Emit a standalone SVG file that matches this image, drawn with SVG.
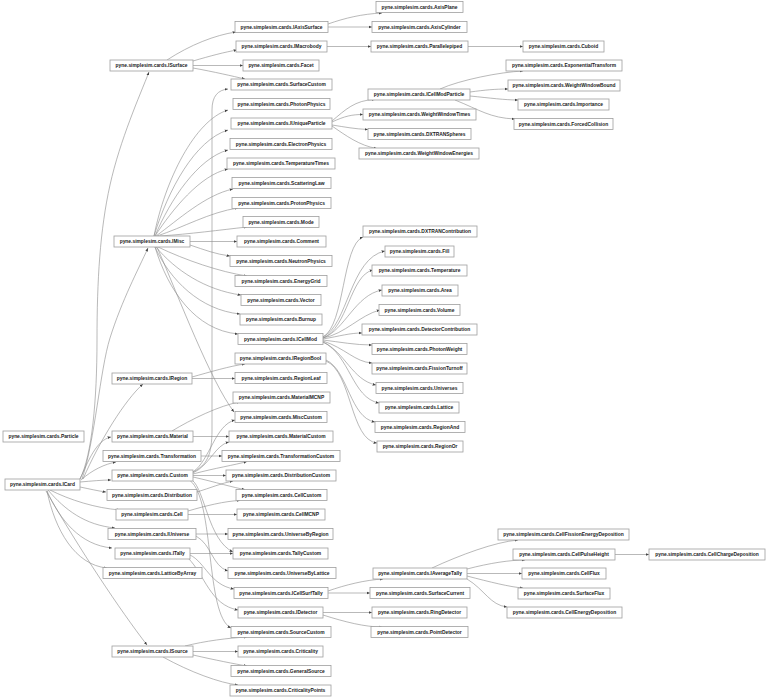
<svg xmlns="http://www.w3.org/2000/svg" width="768" height="698" viewBox="0 0 768 698">
<style>
.n rect{fill:#fff;stroke:#9e9e9e;stroke-width:0.8}
.n text{font-family:"Liberation Sans",Arial,sans-serif;font-size:4.9px;font-weight:bold;text-anchor:middle;fill:#1a1a1a}
.e path{fill:none;stroke:#8a8a8a;stroke-width:0.6;marker-end:url(#a)}
</style>
<defs>
<marker id="a" viewBox="0 0 10 10" refX="10" refY="5" markerWidth="3.4" markerHeight="3.4" markerUnits="userSpaceOnUse" orient="auto"><path d="M0,1 L10,5 L0,9 z" fill="#444"/></marker>
</defs>
<rect width="768" height="698" fill="#fff"/>
<g id="connectors" class="e">
<!-- ICard -->
<path d="M80,479 C92,455 97,400 97,340 C97,280 100,230 110,185 C120,140 140,95 149,72"/>
<path d="M82,479 C95,440 100,370 110,338 C122,300 138,270 148,248"/>
<path d="M83,479 C100,440 125,400 143,384"/>
<path d="M80,479 C88,462 96,440 111,437"/>
<path d="M81,480 C92,470 105,464 116,462"/>
<path d="M80,482 C92,481 102,480 111,480"/>
<path d="M80,487 C90,489 98,491 106,492"/>
<path d="M50,490 C70,500 95,508 120,510"/>
<path d="M48,490 C65,510 85,525 115,528"/>
<path d="M47,491 C60,520 80,545 112,548"/>
<path d="M47,491 C55,530 75,565 107,568"/>
<path d="M46,491 C80,550 120,610 147,645"/>
<!-- ISurface -->
<path d="M167,60 C190,45 215,35 236,32"/>
<path d="M193,61 C210,56 225,52 237,50"/>
<path d="M193,65.5 L243,65.5"/>
<path d="M193,68 C215,72 232,76 245,79"/>
<path d="M328,24 C345,18 362,14 382,13"/>
<path d="M328,27 L372,27"/>
<path d="M327,46.5 L371,46.5"/>
<path d="M468,46.5 L523,46.5"/>
<!-- IMisc -->
<path d="M154,236 C165,180 195,120 228,110"/>
<path d="M154,236 C168,190 195,140 228,130"/>
<path d="M155,236 C170,200 198,158 228,150"/>
<path d="M155,236 C172,210 200,175 228,169"/>
<path d="M156,236 C178,220 205,195 233,189"/>
<path d="M157,236 C182,228 210,212 238,208"/>
<path d="M160,236 C190,234 220,230 247,227"/>
<path d="M190,241.5 L237,241.5"/>
<path d="M190,245 C205,250 215,254 230,256"/>
<path d="M158,247 C185,260 220,272 247,276"/>
<path d="M156,247 C175,270 205,290 241,295"/>
<path d="M155,247 C170,280 200,310 240,314"/>
<path d="M155,247 C168,290 195,330 238,334"/>
<path d="M157,247 C180,300 210,380 234,412"/>
<!-- IUniqueParticle -->
<path d="M332,121 C345,110 355,100 375,99.5"/>
<path d="M332,122 C345,116 352,114.5 363,114.5"/>
<path d="M332,125 C345,127 355,129 368,129.5"/>
<path d="M332,126 C345,135 360,146 377,148.5"/>
<!-- ICellModParticle -->
<path d="M440,89 C460,80 500,72 523,71"/>
<path d="M470,92 C485,90 495,89 508,89"/>
<path d="M470,96 C490,98 505,100 518,100"/>
<path d="M455,100 C480,110 490,118 515,119"/>
<!-- ICellMod -->
<path d="M323,337 C345,325 342,245 363,237"/>
<path d="M323,337 C348,325 350,258 385,251"/>
<path d="M323,338 C348,328 350,275 373,270"/>
<path d="M323,338 C345,330 355,295 382,290"/>
<path d="M323,338 C345,334 360,315 380,310"/>
<path d="M323,339 C340,336 350,333 362,333"/>
<path d="M323,340 C340,342 355,345 372,345"/>
<path d="M323,341 C345,348 355,362 372,363"/>
<path d="M323,342 C345,352 352,380 376,385"/>
<path d="M323,342 C350,355 352,398 379,403"/>
<!-- IRegion -->
<path d="M192,377 C210,372 230,366 245,364"/>
<path d="M192,378.5 L235,378.5"/>
<path d="M326,360 C348,370 350,418 375,422"/>
<path d="M326,361 C352,372 350,440 377,443"/>
<!-- Material -->
<path d="M172,431 C190,420 220,405 240,402"/>
<path d="M193,436.5 L229,436.5"/>
<!-- Transformation -->
<path d="M201,456 L222,456"/>
<!-- Custom -->
<path d="M193,472 C207,465 212,455 212,430 L212,110 C212,96 218,90 228,89"/>
<path d="M193,472 C210,460 215,425 235,420"/>
<path d="M193,473 C210,465 215,445 229,442"/>
<path d="M193,474 C215,468 235,465 247,461.5"/>
<path d="M193,475.5 L226,475.5"/>
<path d="M193,477 C215,482 235,488 245,489.5"/>
<path d="M192,480 C205,490 208,540 233,552"/>
<path d="M190,480.5 C215,500 205,615 231,628"/>
<!-- Distribution -->
<path d="M197,492 C210,488 222,483 233,481"/>
<!-- Cell -->
<path d="M188,511 C205,506 225,501 240,500.5"/>
<path d="M188,514.5 L237,514.5"/>
<!-- IUniverse -->
<path d="M196,534 L228,534"/>
<path d="M196,536 C212,545 212,566 228,571"/>
<!-- ITally -->
<path d="M190,553.5 L233,553.5"/>
<path d="M190,555 C205,562 210,585 234,589"/>
<path d="M188,558 C205,575 210,605 238,610"/>
<path d="M328,591 C345,585 365,580 383,579"/>
<path d="M328,593 L370,593"/>
<path d="M323,612.5 L372,612.5"/>
<path d="M323,615 C345,622 365,627 382,627"/>
<!-- IAverageTally -->
<path d="M432,568 C460,555 495,542 518,540"/>
<path d="M467,569 C490,563 510,560 525,560"/>
<path d="M467,573.5 L522,573.5"/>
<path d="M467,576 C490,582 510,587 523,588"/>
<path d="M467,579 C485,590 490,605 507,607"/>
<path d="M615,554.5 L649,554.5"/>
<!-- ISource -->
<path d="M185,646 C205,641 228,638 247,637"/>
<path d="M193,651.5 L238,651.5"/>
<path d="M193,655 C215,660 235,664 247,666"/>
<path d="M163,657 C190,672 220,683 238,685"/>
</g>
<g id="Particle" class="n"><rect x="3" y="431" width="81" height="11"/><text x="43.5" y="438.3">pyne.simplesim.cards.Particle</text></g>
<g id="ICard" class="n"><rect x="5" y="479" width="75" height="11"/><text x="42.5" y="486.3">pyne.simplesim.cards.ICard</text></g>
<g id="ISurface" class="n"><rect x="110" y="60" width="83" height="11"/><text x="151.5" y="67.3">pyne.simplesim.cards.ISurface</text></g>
<g id="IMisc" class="n"><rect x="114" y="236" width="76" height="11"/><text x="152" y="243.3">pyne.simplesim.cards.IMisc</text></g>
<g id="IRegion" class="n"><rect x="112" y="373" width="80" height="11"/><text x="152" y="380.3">pyne.simplesim.cards.IRegion</text></g>
<g id="Material" class="n"><rect x="112" y="431" width="81" height="11"/><text x="152.5" y="438.3">pyne.simplesim.cards.Material</text></g>
<g id="Transformation" class="n"><rect x="103" y="450.5" width="98" height="11"/><text x="152" y="457.8">pyne.simplesim.cards.Transformation</text></g>
<g id="Custom" class="n"><rect x="112" y="470" width="81" height="11"/><text x="152.5" y="477.3">pyne.simplesim.cards.Custom</text></g>
<g id="Distribution" class="n"><rect x="107" y="489.5" width="90" height="11"/><text x="152" y="496.8">pyne.simplesim.cards.Distribution</text></g>
<g id="Cell" class="n"><rect x="116" y="509" width="72" height="11"/><text x="152" y="516.3">pyne.simplesim.cards.Cell</text></g>
<g id="IUniverse" class="n"><rect x="108" y="528.5" width="88" height="11"/><text x="152" y="535.8">pyne.simplesim.cards.IUniverse</text></g>
<g id="ITally" class="n"><rect x="115" y="548" width="75" height="11"/><text x="152.5" y="555.3">pyne.simplesim.cards.ITally</text></g>
<g id="LatticeByArray" class="n"><rect x="103" y="567.5" width="99" height="11"/><text x="152.5" y="574.8">pyne.simplesim.cards.LatticeByArray</text></g>
<g id="ISource" class="n"><rect x="112" y="646" width="81" height="11"/><text x="152.5" y="653.3">pyne.simplesim.cards.ISource</text></g>
<g id="IAxisSurface" class="n"><rect x="235" y="21.5" width="93" height="11"/><text x="281.5" y="28.8">pyne.simplesim.cards.IAxisSurface</text></g>
<g id="IMacrobody" class="n"><rect x="236" y="41" width="91" height="11"/><text x="281.5" y="48.3">pyne.simplesim.cards.IMacrobody</text></g>
<g id="Facet" class="n"><rect x="243" y="60" width="76" height="11"/><text x="281" y="67.3">pyne.simplesim.cards.Facet</text></g>
<g id="SurfaceCustom" class="n"><rect x="231" y="79" width="101" height="11"/><text x="281.5" y="86.3">pyne.simplesim.cards.SurfaceCustom</text></g>
<g id="PhotonPhysics" class="n"><rect x="233" y="98.5" width="97" height="11"/><text x="281.5" y="105.8">pyne.simplesim.cards.PhotonPhysics</text></g>
<g id="IUniqueParticle" class="n"><rect x="231" y="118" width="101" height="11"/><text x="281.5" y="125.3">pyne.simplesim.cards.IUniqueParticle</text></g>
<g id="ElectronPhysics" class="n"><rect x="230" y="138.5" width="102" height="11"/><text x="281" y="145.8">pyne.simplesim.cards.ElectronPhysics</text></g>
<g id="TemperatureTimes" class="n"><rect x="227" y="158" width="108" height="11"/><text x="281" y="165.3">pyne.simplesim.cards.TemperatureTimes</text></g>
<g id="ScatteringLaw" class="n"><rect x="232" y="177.5" width="99" height="11"/><text x="281.5" y="184.8">pyne.simplesim.cards.ScatteringLaw</text></g>
<g id="ProtonPhysics" class="n"><rect x="232" y="197.5" width="99" height="11"/><text x="281.5" y="204.8">pyne.simplesim.cards.ProtonPhysics</text></g>
<g id="Mode" class="n"><rect x="243" y="216.5" width="76" height="11"/><text x="281" y="223.8">pyne.simplesim.cards.Mode</text></g>
<g id="Comment" class="n"><rect x="237" y="236" width="89" height="11"/><text x="281.5" y="243.3">pyne.simplesim.cards.Comment</text></g>
<g id="NeutronPhysics" class="n"><rect x="230" y="255.5" width="102" height="11"/><text x="281" y="262.8">pyne.simplesim.cards.NeutronPhysics</text></g>
<g id="EnergyGrid" class="n"><rect x="235" y="275.5" width="92" height="11"/><text x="281" y="282.8">pyne.simplesim.cards.EnergyGrid</text></g>
<g id="Vector" class="n"><rect x="241" y="294.5" width="80" height="11"/><text x="281" y="301.8">pyne.simplesim.cards.Vector</text></g>
<g id="Burnup" class="n"><rect x="240" y="314" width="82" height="11"/><text x="281" y="321.3">pyne.simplesim.cards.Burnup</text></g>
<g id="ICellMod" class="n"><rect x="238" y="333.5" width="85" height="11"/><text x="280.5" y="340.8">pyne.simplesim.cards.ICellMod</text></g>
<g id="IRegionBool" class="n"><rect x="235" y="353" width="91" height="11"/><text x="280.5" y="360.3">pyne.simplesim.cards.IRegionBool</text></g>
<g id="RegionLeaf" class="n"><rect x="235" y="372.5" width="92" height="11"/><text x="281" y="379.8">pyne.simplesim.cards.RegionLeaf</text></g>
<g id="MaterialMCNP" class="n"><rect x="233" y="392" width="97" height="11"/><text x="281.5" y="399.3">pyne.simplesim.cards.MaterialMCNP</text></g>
<g id="MiscCustom" class="n"><rect x="235" y="411.5" width="92" height="11"/><text x="281" y="418.8">pyne.simplesim.cards.MiscCustom</text></g>
<g id="MaterialCustom" class="n"><rect x="229" y="431" width="104" height="11"/><text x="281" y="438.3">pyne.simplesim.cards.MaterialCustom</text></g>
<g id="TransformationCustom" class="n"><rect x="222" y="450.5" width="118" height="11"/><text x="281" y="457.8">pyne.simplesim.cards.TransformationCustom</text></g>
<g id="DistributionCustom" class="n"><rect x="226" y="470" width="110" height="11"/><text x="281" y="477.3">pyne.simplesim.cards.DistributionCustom</text></g>
<g id="CellCustom" class="n"><rect x="236" y="489.5" width="91" height="11"/><text x="281.5" y="496.8">pyne.simplesim.cards.CellCustom</text></g>
<g id="CellMCNP" class="n"><rect x="237" y="509" width="88" height="11"/><text x="281" y="516.3">pyne.simplesim.cards.CellMCNP</text></g>
<g id="UniverseByRegion" class="n"><rect x="228" y="528.5" width="105" height="11"/><text x="280.5" y="535.8">pyne.simplesim.cards.UniverseByRegion</text></g>
<g id="TallyCustom" class="n"><rect x="233" y="548" width="95" height="11"/><text x="280.5" y="555.3">pyne.simplesim.cards.TallyCustom</text></g>
<g id="UniverseByLattice" class="n"><rect x="228" y="567.5" width="108" height="11"/><text x="282" y="574.8">pyne.simplesim.cards.UniverseByLattice</text></g>
<g id="ICellSurfTally" class="n"><rect x="234" y="587.5" width="94" height="11"/><text x="281" y="594.8">pyne.simplesim.cards.ICellSurfTally</text></g>
<g id="IDetector" class="n"><rect x="238" y="607" width="85" height="11"/><text x="280.5" y="614.3">pyne.simplesim.cards.IDetector</text></g>
<g id="SourceCustom" class="n"><rect x="231" y="626.5" width="100" height="11"/><text x="281" y="633.8">pyne.simplesim.cards.SourceCustom</text></g>
<g id="Criticality" class="n"><rect x="238" y="646" width="85" height="11"/><text x="280.5" y="653.3">pyne.simplesim.cards.Criticality</text></g>
<g id="GeneralSource" class="n"><rect x="231" y="665.5" width="100" height="11"/><text x="281" y="672.8">pyne.simplesim.cards.GeneralSource</text></g>
<g id="CriticalityPoints" class="n"><rect x="230" y="685" width="101" height="11"/><text x="280.5" y="692.3">pyne.simplesim.cards.CriticalityPoints</text></g>
<g id="AxisPlane" class="n"><rect x="376" y="1.5" width="87" height="11"/><text x="419.5" y="8.8">pyne.simplesim.cards.AxisPlane</text></g>
<g id="AxisCylinder" class="n"><rect x="372" y="21.5" width="95" height="11"/><text x="419.5" y="28.8">pyne.simplesim.cards.AxisCylinder</text></g>
<g id="Parallelepiped" class="n"><rect x="371" y="41" width="97" height="11"/><text x="419.5" y="48.3">pyne.simplesim.cards.Parallelepiped</text></g>
<g id="ICellModParticle" class="n"><rect x="368" y="89" width="102" height="11"/><text x="419" y="96.3">pyne.simplesim.cards.ICellModParticle</text></g>
<g id="WeightWindowTimes" class="n"><rect x="363" y="109" width="113" height="11"/><text x="419.5" y="116.3">pyne.simplesim.cards.WeightWindowTimes</text></g>
<g id="DXTRANSpheres" class="n"><rect x="368" y="128.5" width="103" height="11"/><text x="419.5" y="135.8">pyne.simplesim.cards.DXTRANSpheres</text></g>
<g id="WeightWindowEnergies" class="n"><rect x="359" y="148" width="120" height="11"/><text x="419" y="155.3">pyne.simplesim.cards.WeightWindowEnergies</text></g>
<g id="DXTRANContribution" class="n"><rect x="363" y="226" width="114" height="11"/><text x="420" y="233.3">pyne.simplesim.cards.DXTRANContribution</text></g>
<g id="Fill" class="n"><rect x="385" y="246" width="69" height="11"/><text x="419.5" y="253.3">pyne.simplesim.cards.Fill</text></g>
<g id="Temperature" class="n"><rect x="372" y="265" width="95" height="11"/><text x="419.5" y="272.3">pyne.simplesim.cards.Temperature</text></g>
<g id="Area" class="n"><rect x="382" y="285" width="76" height="11"/><text x="420" y="292.3">pyne.simplesim.cards.Area</text></g>
<g id="Volume" class="n"><rect x="379" y="304.5" width="81" height="11"/><text x="419.5" y="311.8">pyne.simplesim.cards.Volume</text></g>
<g id="DetectorContribution" class="n"><rect x="362" y="324" width="115" height="11"/><text x="419.5" y="331.3">pyne.simplesim.cards.DetectorContribution</text></g>
<g id="PhotonWeight" class="n"><rect x="372" y="343.5" width="95" height="11"/><text x="419.5" y="350.8">pyne.simplesim.cards.PhotonWeight</text></g>
<g id="FissionTurnoff" class="n"><rect x="372" y="363" width="95" height="11"/><text x="419.5" y="370.3">pyne.simplesim.cards.FissionTurnoff</text></g>
<g id="Universes" class="n"><rect x="376" y="382.5" width="87" height="11"/><text x="419.5" y="389.8">pyne.simplesim.cards.Universes</text></g>
<g id="Lattice" class="n"><rect x="379" y="402" width="80" height="11"/><text x="419" y="409.3">pyne.simplesim.cards.Lattice</text></g>
<g id="RegionAnd" class="n"><rect x="375" y="421.5" width="90" height="11"/><text x="420" y="428.8">pyne.simplesim.cards.RegionAnd</text></g>
<g id="RegionOr" class="n"><rect x="377" y="441" width="86" height="11"/><text x="420" y="448.3">pyne.simplesim.cards.RegionOr</text></g>
<g id="IAverageTally" class="n"><rect x="373" y="568" width="94" height="11"/><text x="420" y="575.3">pyne.simplesim.cards.IAverageTally</text></g>
<g id="SurfaceCurrent" class="n"><rect x="370" y="587.5" width="100" height="11"/><text x="420" y="594.8">pyne.simplesim.cards.SurfaceCurrent</text></g>
<g id="RingDetector" class="n"><rect x="372" y="607" width="95" height="11"/><text x="419.5" y="614.3">pyne.simplesim.cards.RingDetector</text></g>
<g id="PointDetector" class="n"><rect x="371" y="626.5" width="97" height="11"/><text x="419.5" y="633.8">pyne.simplesim.cards.PointDetector</text></g>
<g id="Cuboid" class="n"><rect x="523" y="41" width="81" height="11"/><text x="563.5" y="48.3">pyne.simplesim.cards.Cuboid</text></g>
<g id="ExponentialTransform" class="n"><rect x="506" y="60" width="116" height="11"/><text x="564" y="67.3">pyne.simplesim.cards.ExponentialTransform</text></g>
<g id="WeightWindowBound" class="n"><rect x="508" y="80" width="112" height="11"/><text x="564" y="87.3">pyne.simplesim.cards.WeightWindowBound</text></g>
<g id="Importance" class="n"><rect x="518" y="99" width="91" height="11"/><text x="563.5" y="106.3">pyne.simplesim.cards.Importance</text></g>
<g id="ForcedCollision" class="n"><rect x="514" y="118.5" width="99" height="11"/><text x="563.5" y="125.8">pyne.simplesim.cards.ForcedCollision</text></g>
<g id="CellFissionEnergyDeposition" class="n"><rect x="498" y="529" width="131" height="11"/><text x="563.5" y="536.3">pyne.simplesim.cards.CellFissionEnergyDeposition</text></g>
<g id="CellPulseHeight" class="n"><rect x="513" y="549" width="102" height="11"/><text x="564" y="556.3">pyne.simplesim.cards.CellPulseHeight</text></g>
<g id="CellFlux" class="n"><rect x="522" y="568" width="84" height="11"/><text x="564" y="575.3">pyne.simplesim.cards.CellFlux</text></g>
<g id="SurfaceFlux" class="n"><rect x="518" y="588" width="92" height="11"/><text x="564" y="595.3">pyne.simplesim.cards.SurfaceFlux</text></g>
<g id="CellEnergyDeposition" class="n"><rect x="507" y="607" width="115" height="11"/><text x="564.5" y="614.3">pyne.simplesim.cards.CellEnergyDeposition</text></g>
<g id="CellChargeDeposition" class="n"><rect x="649" y="549" width="116" height="11"/><text x="707" y="556.3">pyne.simplesim.cards.CellChargeDeposition</text></g>
</svg>
